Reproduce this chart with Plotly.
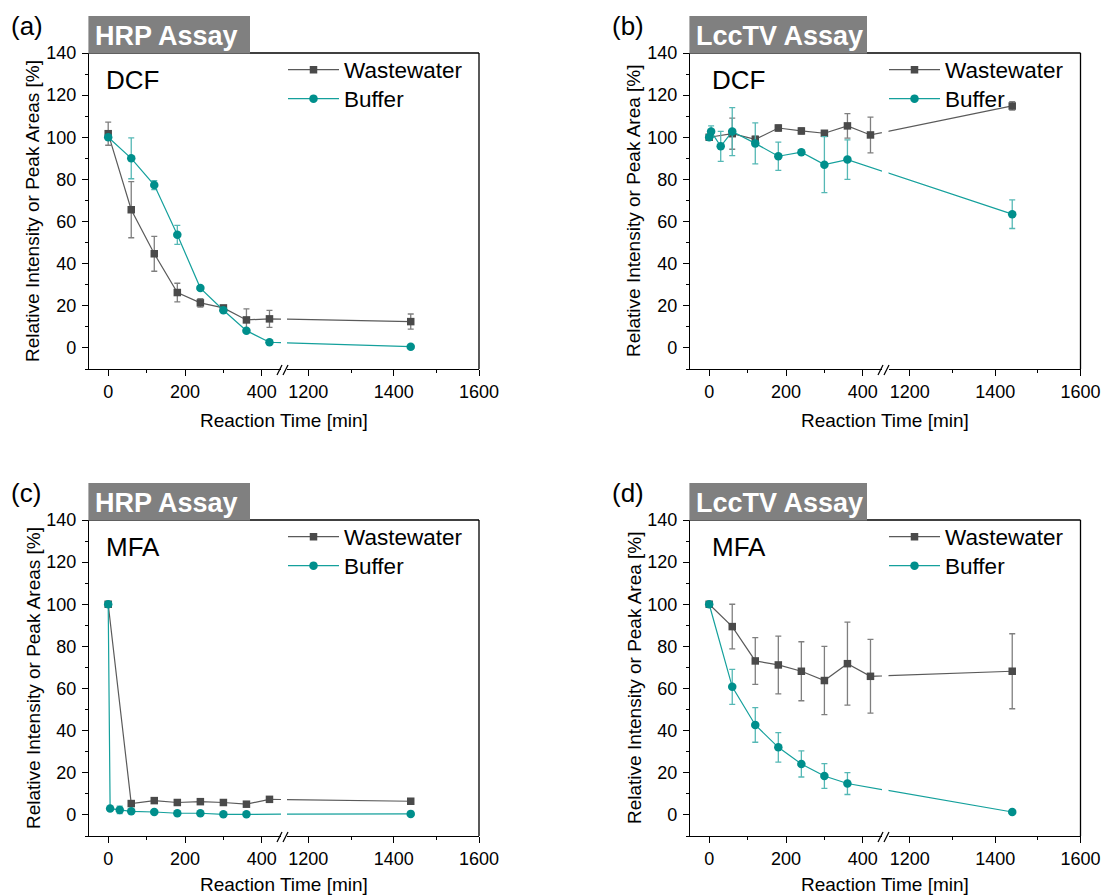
import plotly.graph_objects as go

# ---------------- data ----------------
time_ww = [0, 60, 120, 180, 240, 300, 360, 420, 1440]
time_buf_a = [0, 60, 120, 180, 240, 300, 360, 420, 1440]
time_buf_b = [0, 5, 30, 60, 120, 180, 240, 300, 360, 1440]
time_buf_c = [0, 5, 30, 60, 120, 180, 240, 300, 360, 1440]
time_buf_d = [0, 60, 120, 180, 240, 300, 360, 1440]

a_ww = [101.7, 65.6, 44.7, 26.3, 21.4, 19.0, 13.3, 13.8, 12.5]
a_ww_err = [5.5, 13.3, 8.3, 4.4, 2.0, 1.0, 5.2, 4.0, 3.6]
a_buf = [100.0, 90.0, 77.3, 53.7, 28.4, 17.9, 8.2, 2.7, 0.6]
a_buf_err = [0.8, 9.7, 2.1, 4.5, 0.8, 0.8, 0.5, 0.5, 0.3]

b_ww = [100.0, 101.7, 99.0, 104.4, 103.0, 101.9, 105.4, 101.1, 114.9]
b_ww_err = [1.0, 7.4, 1.5, 1.5, 1.5, 1.0, 5.8, 8.5, 2.0]
b_buf = [100.0, 102.7, 95.7, 102.7, 97.1, 91.0, 92.9, 87.0, 89.4, 63.5]
b_buf_err = [1.0, 2.7, 7.1, 11.4, 9.7, 6.7, 1.0, 13.3, 9.4, 6.8]

c_ww = [100.0, 5.4, 6.8, 5.9, 6.3, 5.9, 5.1, 7.4, 6.5]
c_ww_err = [0.5, 0.8, 0.8, 0.6, 0.6, 0.5, 0.5, 0.8, 0.6]
c_buf = [100.0, 3.0, 2.4, 1.7, 1.4, 0.8, 0.8, 0.3, 0.3, 0.5]
c_buf_err = [0.5, 0.5, 1.8, 0.5, 0.3, 0.2, 0.2, 0.2, 0.2, 0.2]

d_ww = [100.0, 89.4, 73.1, 71.2, 68.2, 63.8, 71.8, 65.8, 68.2]
d_ww_err = [0.5, 10.6, 11.1, 13.7, 14.0, 16.2, 19.7, 17.5, 17.8]
d_buf = [100.0, 60.8, 42.7, 32.1, 24.2, 18.5, 14.9, 1.4]
d_buf_err = [0.5, 8.3, 8.2, 7.0, 6.2, 5.9, 5.2, 0.5]

series_names = ["Wastewater", "Buffer"]
panel_letters = ["(a)", "(b)", "(c)", "(d)"]
assay_labels = ["HRP Assay", "LccTV Assay", "HRP Assay", "LccTV Assay"]
compound_labels = ["DCF", "DCF", "MFA", "MFA"]
y_titles = ["Relative Intensity or Peak Areas [%]", "Relative Intensity or Peak Area [%]",
            "Relative Intensity or Peak Areas [%]", "Relative Intensity or Peak Area [%]"]
x_title = "Reaction Time [min]"

# broken x axis: two segments
seg1_range = [-50, 450]
seg2_range = [1150, 1600]
seg1_ticks = [0, 200, 400]
seg1_minor = [100, 300]
seg2_ticks = [1200, 1400, 1600]
seg2_minor = [1300, 1500]
y_range = [-10, 140]

# ---------------- style / geometry ----------------
W, H = 1104, 896
FONT = "Liberation Sans, Arial, Helvetica, sans-serif"
GRAY_M, GRAY_L, GRAY_E = "#4a4a4a", "#5a5a5a", "#7f7f7f"
TEAL_M, TEAL_L, TEAL_E = "#008f8c", "#14a09c", "#55b8b5"

SEG = 192   # px width of each axis segment
GAP = 6     # px gap between the segments


def px(x):
    return x / W


def py(y):
    return 1 - y / H


# piecewise-linear scale of the broken axis (in units of the first segment)
SPAN1 = seg1_range[1] - seg1_range[0]
SPAN2 = seg2_range[1] - seg2_range[0]
K2 = SPAN1 / SPAN2                 # stretch of the 2nd segment
G = GAP * SPAN1 / SEG              # gap expressed in segment-1 units


def broken_x(t):
    if t <= seg1_range[1]:
        return t
    return seg1_range[1] + G + (t - seg2_range[0]) * K2


def bx(values):
    return [broken_x(v) for v in values]


panels = [
    dict(left=89, right=479, top=53, bottom=369, box_right=250, title_off=51,
         data=[(time_ww, a_ww, a_ww_err), (time_buf_a, a_buf, a_buf_err)]),
    dict(left=690, right=1080.5, top=53, bottom=369, box_right=867, title_off=51,
         data=[(time_ww, b_ww, b_ww_err), (time_buf_b, b_buf, b_buf_err)]),
    dict(left=89, right=479, top=520, bottom=836, box_right=250, title_off=48,
         data=[(time_ww, c_ww, c_ww_err), (time_buf_c, c_buf, c_buf_err)]),
    dict(left=690, right=1080.5, top=520, bottom=836, box_right=867, title_off=48,
         data=[(time_ww, d_ww, d_ww_err), (time_buf_d, d_buf, d_buf_err)]),
]

fig = go.Figure()
layout = dict(width=W, height=H, margin=dict(l=0, r=0, t=0, b=0, pad=0), autosize=False,
              template="none",
              paper_bgcolor="white", plot_bgcolor="white",
              font=dict(family=FONT, color="black"))
shapes = []
annotations = []

tickfont = dict(family=FONT, size=18, color="black")
axis_common = dict(ticks="outside", ticklen=6, tickwidth=1.3, tickcolor="black",
                   showline=True, linewidth=1.3, linecolor="black", automargin=False,
                   showgrid=False, zeroline=False, tickfont=tickfont, fixedrange=True)


def minor_array(vals):
    return dict(tickmode="array", tickvals=bx(vals), ticks="outside", ticklen=3,
                tickwidth=1.3, tickcolor="black", showgrid=False)


def paper_ann(text, x, y, size, xanchor="left", angle=0, color="black", weight="normal"):
    return dict(text=text, x=px(x), y=py(y), xref="paper", yref="paper",
                xanchor=xanchor, yanchor="middle", textangle=angle, showarrow=False,
                font=dict(family=FONT, size=size, color=color, weight=weight))


for i, p in enumerate(panels):
    n = i + 1
    xa1, xa2 = 2 * n - 1, 2 * n
    xn1 = "x" if xa1 == 1 else f"x{xa1}"
    xn2 = f"x{xa2}"
    yn = "y" if n == 1 else f"y{n}"
    L, R, T, B = p["left"], p["right"], p["top"], p["bottom"]

    layout["xaxis" if xa1 == 1 else f"xaxis{xa1}"] = dict(
        axis_common, domain=[px(L), px(L + SEG)], range=bx(seg1_range), anchor=yn,
        tickmode="array", tickvals=bx(seg1_ticks), ticktext=[str(v) for v in seg1_ticks],
        minor=minor_array(seg1_minor))
    layout[f"xaxis{xa2}"] = dict(
        axis_common, domain=[px(R - SEG), px(R)], range=bx(seg2_range), anchor=yn,
        tickmode="array", tickvals=bx(seg2_ticks), ticktext=[str(v) for v in seg2_ticks],
        minor=minor_array(seg2_minor))
    layout["yaxis" if n == 1 else f"yaxis{n}"] = dict(
        axis_common, domain=[py(B), py(T)], range=y_range, anchor=xn1,
        tick0=0, dtick=20, ticklabelstandoff=2,
        minor=dict(dtick=10, ticks="outside", ticklen=3, tickwidth=1.3, tickcolor="black"))

    styles = [
        dict(sym="square", size=7.5, mc=GRAY_M, lc=GRAY_L, ec=GRAY_E),
        dict(sym="circle", size=8.5, mc=TEAL_M, lc=TEAL_L, ec=TEAL_E),
    ]
    for k, ((t, v, e), st, name) in enumerate(zip(p["data"], styles, series_names)):
        li = 2 * i + k + 1
        legn = "legend" if li == 1 else f"legend{li}"
        for seg, xn in enumerate([xn1, xn2]):
            fig.add_trace(go.Scatter(
                x=bx(t), y=v, mode="lines+markers", name=name,
                customdata=t,
                error_y=dict(type="data", array=e, visible=True, color=st["ec"],
                             thickness=1.3, width=3),
                line=dict(color=st["lc"], width=1.2),
                marker=dict(symbol=st["sym"], size=st["size"], color=st["mc"],
                            line=dict(width=0)),
                xaxis=xn, yaxis=yn, legend=legn, showlegend=(seg == 0),
                cliponaxis=True,
                hovertemplate="%{customdata} min: %{y}<extra>" + name + "</extra>"))
        row_y = T + 17 + 29 * k
        layout[legn] = dict(x=px(L + 194), xanchor="left", y=py(row_y), yanchor="middle",
                            bgcolor="rgba(0,0,0,0)", borderwidth=0, itemwidth=51,
                            font=dict(family=FONT, size=22.5, color="black"))

    # frame (top and right spines)
    shapes.append(dict(type="line", xref="paper", yref="paper", x0=px(L), x1=px(R),
                       y0=py(T), y1=py(T), line=dict(color="black", width=1.3)))
    shapes.append(dict(type="line", xref="paper", yref="paper", x0=px(R), x1=px(R),
                       y0=py(T), y1=py(B), line=dict(color="black", width=1.3)))
    # assay label box
    shapes.append(dict(type="rect", xref="paper", yref="paper", x0=px(L - 0.6),
                       x1=px(p["box_right"]), y0=py(T + 0.6), y1=py(T - 37),
                       fillcolor="#808080", line=dict(width=0)))
    # axis break marks
    for dx in (0, 6):
        x0 = L + SEG - 4 + dx
        shapes.append(dict(type="line", xref="paper", yref="paper",
                           x0=px(x0), x1=px(x0 + 5), y0=py(B + 6), y1=py(B - 4),
                           line=dict(color="black", width=1.3)))

    annotations += [
        paper_ann(assay_labels[i], L + 4, T - 17, 27, color="white", weight="bold"),
        paper_ann(panel_letters[i], L - 80, T - 27, 26),
        paper_ann(compound_labels[i], L + 15 if n % 2 else L + 20, T + 27, 26),
        paper_ann(x_title, (L + R) / 2, B + p["title_off"], 19, xanchor="center"),
        paper_ann(y_titles[i], L - 56, (T + B) / 2, 19, xanchor="center", angle=-90),
    ]

layout["shapes"] = shapes
layout["annotations"] = annotations
fig.update_layout(**layout)
fig.write_html("out.html")
